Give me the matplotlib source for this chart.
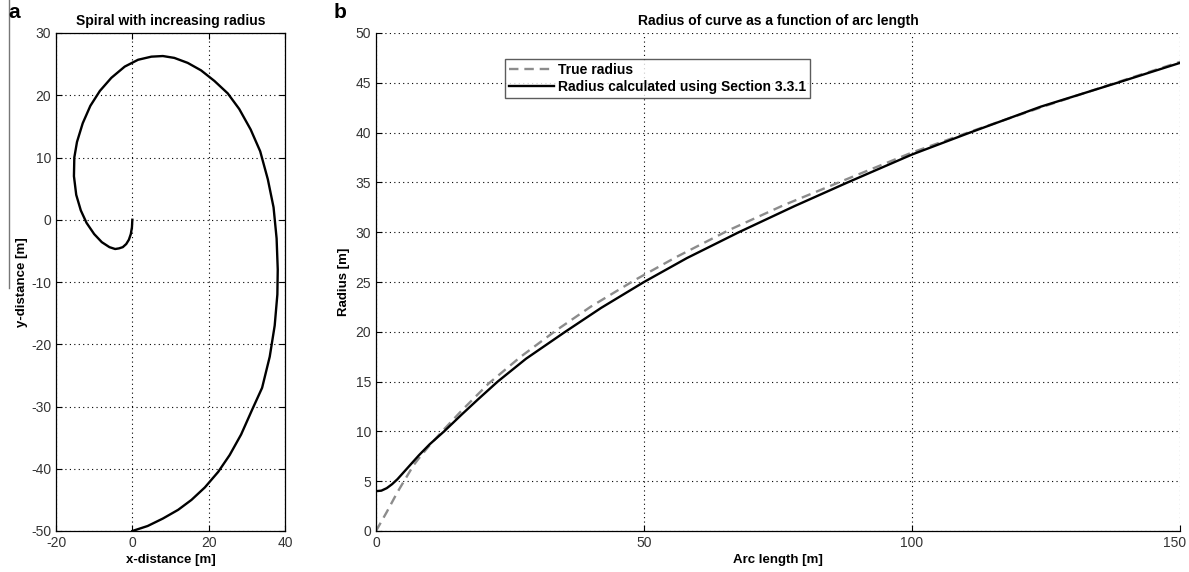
import matplotlib.pyplot as plt
from matplotlib.lines import Line2D
from matplotlib.transforms import ScaledTranslation

plt.rcParams['font.family'] = ['Liberation Sans', 'DejaVu Sans']
plt.rcParams['axes.unicode_minus'] = False

# spiral (panel a)
spiral_x = [0, -0.1, -0.4, -0.9, -1.6, -2.5, -3.5, -4.5, -6, -8, -10, -12, -13.5,
            -14.7, -15.3, -15.2, -14.5, -13, -11, -8.5, -5.5, -2, 1.5, 5, 8, 11, 14.5,
            18, 21.5, 25, 28, 31, 33.5, 35.5, 37, 37.8, 38.1, 38, 37.3, 36, 34, 31.4,
            28.5, 25.5, 22.5, 19, 15.5, 12, 8, 4, 0]
spiral_y = [0, -1.2, -2.3, -3.2, -3.9, -4.4, -4.6, -4.7, -4.4, -3.6, -2.3, -0.5, 1.5,
            4, 7, 10, 12.5, 15.5, 18.3, 20.7, 22.8, 24.6, 25.7, 26.2, 26.3, 26.0, 25.2,
            24, 22.3, 20.3, 17.8, 14.5, 11, 6.5, 2, -3, -8, -12, -17, -22, -27, -30.5,
            -34.5, -37.8, -40.5, -43, -45, -46.6, -48, -49.2, -50]

# radius vs arc length (panel b)
true_s = [0, 2, 4, 6, 7, 8, 10, 12.5, 16, 21, 27, 33.5, 40, 48.3, 56, 65.8, 76, 86.8,
          100, 112, 125, 138, 150]
true_r = [0, 1.9, 3.9, 5.7, 6.6, 7.3, 8.6, 10.1, 12.1, 14.8, 17.5, 20.1, 22.5, 25.2,
          27.5, 30.2, 32.7, 35.1, 38.0, 40.3, 42.7, 45.0, 47.1]
calc_s = [0, 1, 2, 3, 4, 5, 6, 7, 8, 10, 12.7, 16, 19, 22.7, 28, 35.3, 42, 50, 58,
          67.7, 78, 88, 100, 110.8, 124, 138.3, 150]
calc_r = [4.0, 4.05, 4.3, 4.7, 5.2, 5.8, 6.4, 7.0, 7.6, 8.7, 10, 11.7, 13.2, 15,
          17.3, 20, 22.4, 25, 27.4, 30, 32.6, 35, 37.8, 40, 42.6, 45, 47.0]

W, H = 1189, 572
fig = plt.figure(figsize=(W / 100, H / 100), dpi=100)

def box(l, t, r, b):
    return [l / W, 1 - b / H, (r - l) / W, (b - t) / H]

tick_col = '#333333'

def style(ax):
    ax.grid(True, color='black', linestyle=(0, (1, 3)), linewidth=0.8)
    ax.tick_params(direction='in', length=4, width=0.8, labelsize=10,
                   labelcolor=tick_col, top=True, right=True)
    for sp in ax.spines.values():
        sp.set_linewidth(0.9)

# panel a
ax1 = fig.add_axes(box(56, 33, 285, 531))
ax1.plot(spiral_x, spiral_y, color='black', linewidth=1.7)
ax1.set_xlim(-20, 40)
ax1.set_ylim(-50, 30)
ax1.set_xticks([-20, 0, 20, 40])
ax1.set_yticks(range(-50, 31, 10))
style(ax1)
ax1.set_title('Spiral with increasing radius', fontsize=10, fontweight='bold', pad=6)
ax1.set_xlabel('x-distance [m]', fontsize=9.5, fontweight='bold', labelpad=3)
ax1.set_ylabel('y-distance [m]', fontsize=9.5, fontweight='bold', labelpad=2)

# panel b
ax2 = fig.add_axes(box(376, 33, 1180, 531))
ax2.plot(true_s, true_r, color='#8c8c8c', linestyle=(0, (4, 2.5)), linewidth=1.7,
         label='True radius')
ax2.plot(calc_s, calc_r, color='black', linewidth=1.7,
         label='Radius calculated using Section 3.3.1')
ax2.set_xlim(0, 150)
ax2.set_ylim(0, 50)
ax2.set_xticks([0, 50, 100, 150])
ax2.set_yticks(range(0, 51, 5))
style(ax2)
ax2.tick_params(top=False, right=False)
ax2.spines['top'].set_visible(False)
ax2.spines['right'].set_visible(False)
last = ax2.get_xticklabels()[-1]
last.set_transform(last.get_transform() + ScaledTranslation(-5 / 100, 0, fig.dpi_scale_trans))
ax2.set_title('Radius of curve as a function of arc length', fontsize=10,
              fontweight='bold', pad=6)
ax2.set_xlabel('Arc length [m]', fontsize=9.5, fontweight='bold', labelpad=3)
ax2.set_ylabel('Radius [m]', fontsize=9.5, fontweight='bold', labelpad=4)
leg = ax2.legend(loc='upper left', bbox_to_anchor=(0.1604, 0.948),
                 prop={'weight': 'bold', 'size': 10}, frameon=True, fancybox=False,
                 edgecolor='#333333', handlelength=3.2, handletextpad=0.3,
                 borderpad=0.3, labelspacing=0.2, borderaxespad=0)
leg.get_frame().set_linewidth(1.0)

# panel letters and the stray edge line
fig.text(8 / W, 1 - 12 / H, 'a', fontsize=15, fontweight='bold', va='center')
fig.text(334 / W, 1 - 13 / H, 'b', fontsize=15, fontweight='bold', va='center')
fig.add_artist(Line2D([8.5 / W, 8.5 / W], [1, 1 - 288 / H], color='#777777',
                      linewidth=1.0, transform=fig.transFigure))

fig.savefig('out.png', dpi=100)
